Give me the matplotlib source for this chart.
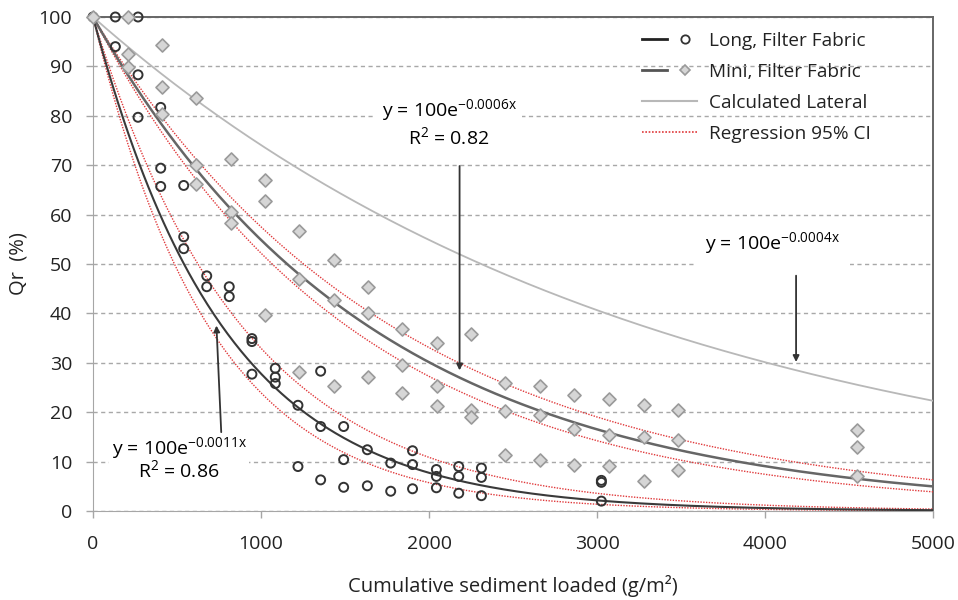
import numpy as np
import matplotlib
matplotlib.use("Agg")
import matplotlib.pyplot as plt
from matplotlib.lines import Line2D
from matplotlib.legend_handler import HandlerTuple

plt.rcParams["font.family"] = ["Open Sans", "DejaVu Sans"]
plt.rcParams["mathtext.fontset"] = "custom"
plt.rcParams["mathtext.rm"] = "Open Sans"
plt.rcParams["mathtext.it"] = "Open Sans:italic"

# Long, Filter Fabric (circles)
long_x = [0, 133, 133, 268, 268, 268, 403, 403, 403, 540, 540, 540, 677, 677,
          811, 811, 946, 946, 946, 1085, 1085, 1085, 1220, 1220, 1355, 1355, 1355,
          1492, 1492, 1492, 1633, 1633, 1772, 1772, 1902, 1902, 1902, 2044, 2044, 2044,
          2177, 2177, 2177, 2312, 2312, 2312, 3026, 3026, 3026]
long_y = [100, 100, 94, 100, 88.3, 79.7, 81.7, 69.4, 65.7, 65.9, 55.5, 53.1, 47.6, 45.4,
          45.4, 43.4, 34.9, 34.3, 27.7, 28.9, 27.1, 25.8, 21.4, 9.0, 28.3, 17.1, 6.3,
          17.1, 10.4, 4.8, 12.4, 5.1, 9.7, 4.0, 12.2, 9.4, 4.5, 8.4, 7.0, 4.7,
          9.0, 7.0, 3.6, 8.7, 6.8, 3.1, 6.2, 5.8, 2.0]

# Mini, Filter Fabric (diamonds)
mini_x = [0, 208, 208, 208, 411, 411, 411, 615, 615, 615, 820, 820, 820,
          1022, 1022, 1022, 1226, 1226, 1226, 1432, 1432, 1432, 1637, 1637, 1637,
          1841, 1841, 1841, 2046, 2046, 2046, 2250, 2250, 2250, 2455, 2455, 2455,
          2659, 2659, 2659, 2863, 2863, 2863, 3071, 3071, 3071, 3278, 3278, 3278,
          3482, 3482, 3482, 4546, 4546, 4546]
mini_y = [100, 100, 92.5, 89.8, 94.4, 85.9, 80.4, 83.7, 70.1, 66.2, 71.3, 60.5, 58.4,
          67.1, 62.7, 39.7, 56.7, 47.0, 28.1, 50.9, 42.8, 25.4, 45.3, 40.1, 27.1,
          36.9, 29.5, 23.9, 34.0, 25.4, 21.2, 35.8, 20.5, 19.0, 25.9, 20.2, 11.4,
          25.4, 19.4, 10.3, 23.5, 16.7, 9.3, 22.6, 15.4, 9.1, 21.5, 15.0, 6.1,
          20.4, 14.4, 8.3, 16.3, 12.9, 7.1]

# decay rates of the drawn curves: fit, upper CI, lower CI
long_k = [0.00128, 0.00111, 0.00143]
mini_k = [0.0006, 0.000553, 0.00065]
lateral_k = 0.0003

long_label = "y = 100e$^{\\mathregular{-0.0011x}}$\nR$^{\\mathregular{2}}$ = 0.86"
mini_label = "y = 100e$^{\\mathregular{-0.0006x}}$\nR$^{\\mathregular{2}}$ = 0.82"
lateral_label = "y = 100e$^{\\mathregular{-0.0004x}}$"

x_ticks = [0, 1000, 2000, 3000, 4000, 5000]
y_ticks = [0, 10, 20, 30, 40, 50, 60, 70, 80, 90, 100]

xs = np.linspace(0, 5000, 500)
txt = "#222222"


def decay(k):
    return 100 * np.exp(-k * xs)


fig = plt.figure(figsize=(9.58, 6), dpi=100)
ax = fig.add_axes([93 / 958, 1 - 511 / 600, 840 / 958, 494 / 600])

red = "#e0393b"
for k in long_k[1:] + mini_k[1:]:
    ax.plot(xs, decay(k), color=red, lw=1.0, ls=(0, (1, 1)), zorder=3)
ax.plot(xs, decay(lateral_k), color="#b8b8b8", lw=1.3, zorder=3)
ax.plot(xs, decay(long_k[0]), color="#3a3a3a", lw=1.5, zorder=4)
ax.plot(xs, decay(mini_k[0]), color="#666666", lw=1.8, zorder=4)

ax.scatter(long_x, long_y, s=42, marker="o", facecolor="none", edgecolor="#333333",
           linewidths=1.4, zorder=5, clip_on=False)
ax.scatter(mini_x, mini_y, s=44, marker="D", facecolor="#d6d6d6", edgecolor="#9a9a9a",
           linewidths=1.2, zorder=5, clip_on=False)

ax.set_xlim(0, 5000)
ax.set_ylim(0, 100)
ax.set_xticks(x_ticks)
ax.set_yticks(y_ticks)
ax.tick_params(axis="both", direction="out", length=5, width=1, color="#a6a6a6",
               labelsize=14, labelcolor=txt)
ax.tick_params(axis="y", pad=10)
ax.tick_params(axis="x", pad=12.5)
ax.grid(axis="y", color="#a8a8a8", lw=1, ls=(0, (3, 2.5)), zorder=0)

for side in ["left", "bottom"]:
    ax.spines[side].set_color("#a6a6a6")
for side in ["top", "right"]:
    ax.spines[side].set_color("#666666")
    ax.spines[side].set_linewidth(1.4)

ax.set_ylabel("Qr  (%)", fontsize=14.5, color=txt)
ax.yaxis.set_label_coords(-0.077, 0.5)
ax.set_xlabel("Cumulative sediment loaded (g/m²)", fontsize=14.5, color=txt)
ax.xaxis.set_label_coords(0.5, -0.13)

fs = 14
arrow = dict(arrowstyle="-|>", color="#333333", lw=1.3, mutation_scale=9)

ax.text(2120, 78.6, mini_label, ha="center", va="center", multialignment="center",
        fontsize=fs, linespacing=1.2, zorder=6,
        bbox=dict(facecolor="white", edgecolor="none", pad=4))
ax.annotate("", xy=(2182, 27.9), xytext=(2182, 70.4), arrowprops=arrow, zorder=6)

ax.text(4045, 54.2, lateral_label, ha="center", va="center", fontsize=fs,
        bbox=dict(facecolor="white", edgecolor="none", pad=7), zorder=6)
ax.annotate("", xy=(4185, 29.6), xytext=(4185, 48.2), arrowprops=arrow, zorder=6)

ax.text(512, 10.7, long_label, ha="center", va="center", multialignment="center",
        fontsize=fs, linespacing=0.95, zorder=6,
        bbox=dict(facecolor="white", edgecolor="none", pad=2))
ax.annotate("", xy=(734, 38.1), xytext=(764, 15.4), arrowprops=arrow, zorder=6)

h_long = (Line2D([], [], color="#222222", lw=2),
          Line2D([], [], marker="o", ls="none", mfc="none", mec="#333333", ms=6, mew=1.3))
h_mini = (Line2D([], [], color="#555555", lw=2),
          Line2D([], [], marker="D", ls="none", mfc="#d6d6d6", mec="#9a9a9a", ms=5.5, mew=1.2))
h_lat = Line2D([], [], color="#b8b8b8", lw=1.5)
h_ci = Line2D([], [], color=red, lw=1.2, ls=(0, (1, 1)))
leg = ax.legend([h_long, h_mini, h_lat, h_ci],
                ["Long, Filter Fabric", "Mini, Filter Fabric", "Calculated Lateral", "Regression 95% CI"],
                handler_map={tuple: HandlerTuple(ndivide=None, pad=0.3)},
                loc="upper left", bbox_to_anchor=(0.633, 1.004), frameon=False,
                fontsize=13.7, labelspacing=0.68, handlelength=2.9, handletextpad=0.65)
for t in leg.get_texts():
    t.set_color(txt)

fig.savefig("out.png", dpi=100)
